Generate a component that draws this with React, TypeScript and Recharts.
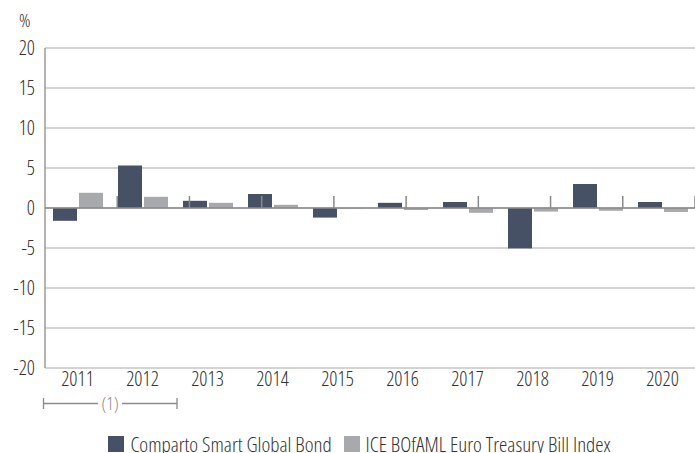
import React from "react";
import {
  BarChart,
  Bar,
  XAxis,
  YAxis,
  CartesianGrid,
  ReferenceLine,
  Legend,
} from "recharts";

const years = ["2011", "2012", "2013", "2014", "2015", "2016", "2017", "2018", "2019", "2020"];
const fundValues = [-1.6, 5.3, 0.9, 1.75, -1.2, 0.65, 0.75, -5.05, 3.0, 0.75];
const indexValues = [1.9, 1.4, 0.65, 0.4, -0.05, -0.25, -0.6, -0.45, -0.35, -0.5];
const yTicks = [-20, -15, -10, -5, 0, 5, 10, 15, 20];
const boundaries = [1, 2, 3, 4, 5, 6, 7, 8, 9];
const fundName = "Comparto Smart Global Bond";
const indexName = "ICE BOfAML Euro Treasury Bill Index";
const unitLabel = "%";
const footnoteLabel = "(1)";

const data = years.map((y, i) => ({ year: y, fund: fundValues[i], index: indexValues[i] }));

const FONT = "'Open Sans', sans-serif";
const STRETCH = "75%";
const DARK = "#475166";
const LIGHT = "#a7a9ac";
const TEXT = "#333333";

const tickStyle = { fontFamily: FONT, fontSize: 20, fill: TEXT, fontStretch: STRETCH, fontWeight: 300 } as any;

const LegendContent = () => (
  <div
    style={{
      display: "flex",
      justifyContent: "center",
      alignItems: "center",
      fontFamily: FONT,
      fontStretch: STRETCH,
      fontWeight: 300,
      fontSize: 21,
      lineHeight: "24px",
      color: TEXT,
      paddingLeft: 24,
    }}
  >
    <span style={{ width: 16, height: 16, background: DARK, display: "inline-block", marginRight: 6 }} />
    <span style={{ marginRight: 12 }}>{fundName}</span>
    <span style={{ width: 16, height: 16, background: LIGHT, display: "inline-block", marginRight: 6 }} />
    <span>{indexName}</span>
  </div>
);

export default function App() {
  return (
    <div style={{ position: "absolute", left: 0, top: 0, width: 695, height: 453, background: "#fff", overflow: "hidden" }}>
      <BarChart
        width={695}
        height={453}
        data={data}
        margin={{ top: 48, right: 0, bottom: 0, left: 0 }}
        barSize={24}
        barGap={2}
      >
        <CartesianGrid vertical={false} stroke="#c4c4c4" strokeWidth={1.3} />
        <XAxis
          dataKey="year"
          axisLine={false}
          tickLine={false}
          tickSize={0}
          tickMargin={4}
          height={61}
          interval={0}
          tick={tickStyle}
        />
        <XAxis xAxisId="n" type="number" domain={[0, 10]} hide />
        <YAxis
          domain={[-20, 20]}
          ticks={yTicks}
          width={45}
          axisLine={{ stroke: "#8a8a8a", strokeWidth: 1.3 }}
          tickLine={false}
          tickSize={0}
          tickMargin={10}
          interval={0}
          tick={tickStyle}
        />
        <ReferenceLine y={0} stroke="#8a8a8a" strokeWidth={1.5} />
        {boundaries.map((b) => (
          <ReferenceLine
            key={b}
            xAxisId="n"
            segment={[
              { x: b, y: 0 },
              { x: b, y: 1.5 },
            ]}
            stroke="#8a8a8a"
            strokeWidth={1.5}
          />
        ))}
        <Bar dataKey="fund" name={fundName} fill={DARK} isAnimationActive={false} />
        <Bar dataKey="index" name={indexName} fill={LIGHT} isAnimationActive={false} />
        <Legend
          verticalAlign="bottom"
          content={<LegendContent />}
          wrapperStyle={{ bottom: -3, left: 0, width: 695, height: 24 }}
        />
      </BarChart>
      <svg
        width={695}
        height={453}
        style={{ position: "absolute", left: 0, top: 0, pointerEvents: "none" }}
      >
        <text x={19} y={27} fontFamily={FONT} fontSize={19} fontWeight={300} fill={TEXT} style={{ fontStretch: STRETCH }}>
          {unitLabel}
        </text>
        <g stroke="#8a8a8a" strokeWidth={1.3}>
          <line x1={43.5} y1={398} x2={43.5} y2={409} />
          <line x1={43.5} y1={403.5} x2={98} y2={403.5} />
          <line x1={122} y1={403.5} x2={177} y2={403.5} />
          <line x1={177} y1={398} x2={177} y2={409} />
        </g>
        <text
          x={110}
          y={410}
          textAnchor="middle"
          fontFamily={FONT}
          fontSize={18}
          fontWeight={300}
          fill="#8a8a8a"
          style={{ fontStretch: STRETCH }}
        >
          {footnoteLabel}
        </text>
      </svg>
    </div>
  );
}
